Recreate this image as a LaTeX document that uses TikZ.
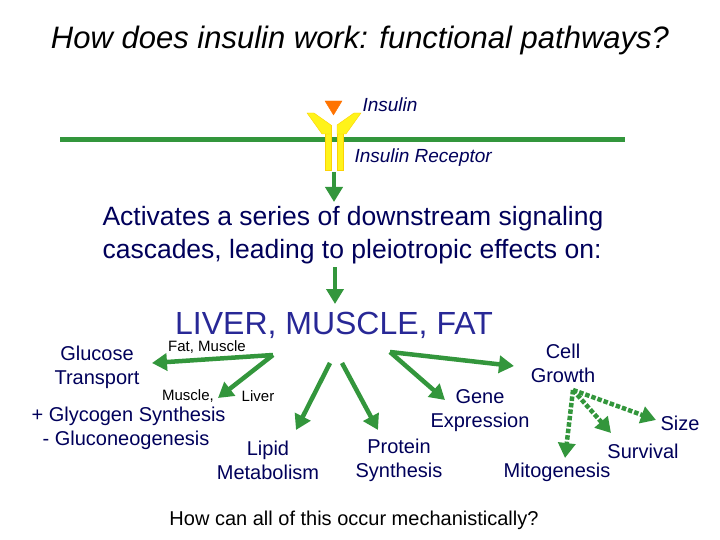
\documentclass[tikz,border=0pt]{standalone}
\usepackage{fontspec}
\setmainfont{Liberation Sans}
\usetikzlibrary{arrows.meta}
\definecolor{leaf}{RGB}{51,150,60}
\definecolor{ink}{RGB}{0,0,90}
\definecolor{tissue}{RGB}{40,40,150}
\tikzset{
  flow/.style={leaf, line width=4.5pt, -{Triangle[width=17pt,length=15pt]}},
  maybe/.style={leaf, line width=4.5pt, dotted, -{Triangle[width=17pt,length=15pt]}},
  lbl/.style={ink, font=\fontsize{20}{24}\selectfont, align=center},
  tiny/.style={black, font=\fontsize{15}{18}\selectfont},
}
\begin{document}
\begin{tikzpicture}[x=1pt,y=-1pt]
		\useasboundingbox (0,0) rectangle (720,540);
		\node[font=\itshape\fontsize{31}{36}\selectfont] (title) at (360,40) {How does insulin work: functional pathways?};
		% membrane and receptor
		\draw[leaf, line width=5pt] (60,140) -- (625,140);
		\draw[fill=yellow!90!white, draw=yellow!70!orange] (325,125) rectangle (331,170) (337,125) rectangle (343,170);
		\draw[fill=yellow!90!white, draw=yellow!70!orange] (307,113) -- (314,113) -- (331,125) -- (331,134) -- (322,134) -- cycle;
		\draw[fill=yellow!90!white, draw=yellow!70!orange] (361,113) -- (354,113) -- (337,125) -- (337,134) -- (346,134) -- cycle;
		\draw[fill=orange!90!red, draw=orange!90!red] (325,101) -- (342,101) -- (333.5,115) -- cycle;
		\node[ink, font=\itshape\fontsize{19}{22}\selectfont, anchor=west] (ins) at (359,105) {Insulin};
		\node[ink, font=\itshape\fontsize{19}{22}\selectfont, anchor=west] (rec) at (351,158) {Insulin Receptor};
		\coordinate (rbase) at (334,172);
		\node[ink, font=\fontsize{26.5}{33}\selectfont, align=left, anchor=north west] (cascade) at (99,203) {Activates a series of downstream signaling\\cascades, leading to pleiotropic effects on:};
		\draw[flow] (rbase) -- (334,202);
		\draw[flow] (335,267) -- (335,304);
		\node[tissue, font=\fontsize{32}{36}\selectfont] (tissues) at (334,325) {LIVER, MUSCLE, FAT};
		% targets
		\node[lbl] (glucose) at (97,367) {Glucose\\Transport};
		\node[lbl, align=left, anchor=west] (glyco) at (28,428) {+ Glycogen Synthesis\\\ \ - Gluconeogenesis};
		\node[lbl] (lipid) at (268,460) {Lipid\\Metabolism};
		\node[lbl] (protein) at (399,460) {Protein\\Synthesis};
		\node[lbl] (gene) at (480,411) {Gene\\Expression};
		\node[lbl] (growth) at (563,363) {Cell\\Growth};
		\node[lbl] (mito) at (557,472) {Mitogenesis};
		\node[lbl] (surv) at (643,451) {Survival};
		\node[lbl] (size) at (680,423) {Size};
		\node[tiny] (fm) at (207,347) {Fat, Muscle};
		\node[tiny] (mus) at (188,396) {Muscle,};
		\node[tiny] (liv) at (258,396) {Liver};
		\coordinate (hubL) at (273,355);
		\coordinate (hubR) at (390,352);
		\coordinate (hubG) at (573,390);
		\draw[flow] (hubL) -- (152,363);
		\draw[flow] (hubL) -- (218,398);
		\draw[flow] (330,363) -- (296,430);
		\draw[flow] (342,363) -- (378,430);
		\draw[flow] (hubR) -- (445,400);
		\draw[flow] (hubR) -- (514,366);
		\draw[maybe] (hubG) -- (565,458);
		\draw[maybe] (hubG) -- (611,433);
		\draw[maybe] (hubG) -- (656,420);
		\node[font=\fontsize{20}{24}\selectfont] (question) at (354,520) {How can all of this occur mechanistically?};
\end{tikzpicture}
\end{document}
